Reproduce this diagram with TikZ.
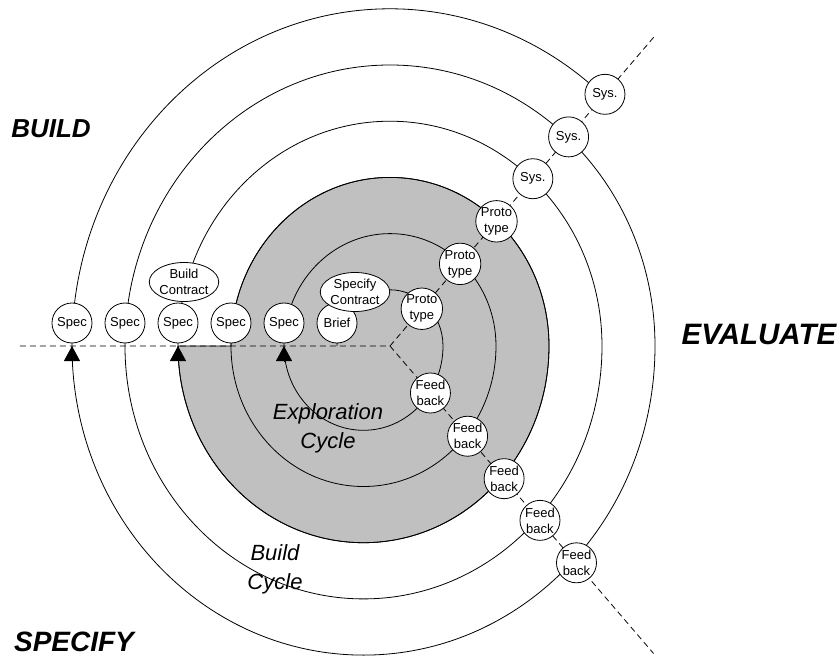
\documentclass[tikz,border=0pt]{standalone}
\usepackage{fontspec}
\setmainfont{Liberation Sans}
\usetikzlibrary{arrows.meta,shapes.geometric}
\definecolor{cyclegray}{RGB}{192,192,192}

\tikzset{
  stage/.style={draw, circle, fill=white, minimum size=40pt, inner sep=0pt, align=center, font=\fontsize{13}{16}\selectfont},
  contract/.style={draw, ellipse, fill=white, minimum width=65pt, minimum height=39pt, inner sep=0pt, align=center, font=\fontsize{13}{16}\selectfont},
  phase/.style={font=\fontsize{#1}{30}\selectfont\bfseries\itshape},
  cyclename/.style={align=center, font=\fontsize{22}{29}\selectfont\itshape},
  quadrant/.style={dash pattern=on 6pt off 4pt},
  into/.style={-{Triangle[width=16pt,length=15pt]}}
}

\begin{document}
\begin{tikzpicture}[x=1pt,y=1pt,line width=0.8pt]
  \useasboundingbox (-390,-310) rectangle (448,346);
  % exploration area
  \filldraw[fill=cyclegray] (-159,0) arc[start angle=180,end angle=0,x radius=159,y radius=168.6]
    arc[start angle=0,end angle=-180,x radius=185.5,y radius=196.7] -- cycle;
  % phase axes
  \coordinate (O) at (0,0);
  \coordinate (specify end) at (-370,0);
  \coordinate (build end) at (49.5:409);
  \coordinate (eval end) at (-49.4:405);
  \draw[quadrant] (specify end) -- (O) -- (build end);
  \draw[quadrant] (O) -- (eval end);
  % spiral turns
  \foreach \k in {1,...,5}
    \draw (-53*\k,0) arc[start angle=180,end angle=0,x radius=53*\k,y radius=56.2*\k]
      arc[start angle=0,end angle=-180,x radius=53*\k+26.5,y radius=56.2*\k+28.1];
  % last turn
  \draw (-318,0) arc[start angle=180,end angle=47.7,x radius=318,y radius=337.2];
  % arrows back into the spec
  \foreach \k in {2,4,6} \draw[into] (-53*\k,-15) -- (-53*\k,0);
  % stages
  \node[stage] (brief) at (-53,23) {Brief};
  \foreach \k in {2,...,6} \node[stage] (spec\k) at (-53*\k,23) {Spec};
  \node[contract] (specify contract) at (-35,54) {Specify\\Contract};
  \node[contract] (build contract) at (-206,64) {Build\\Contract};
  \foreach \d [count=\i] in {49,108,164} \node[stage] (proto\i) at (49.5:\d) {Proto\\type};
  \foreach \d [count=\i] in {220,275,331} \node[stage] (sys\i) at (49.5:\d) {Sys.};
  \foreach \d [count=\i] in {62,119,175,230,286} \node[stage] (feedback\i) at (-49.3:\d) {Feed\\back};
  % labels
  \node[phase=26] (build) at (-339,217) {BUILD};
  \node[phase=28] (specify) at (-316,-296) {SPECIFY};
  \node[phase=29.5] (evaluate) at (369,12) {EVALUATE};
  \node[cyclename] (exploration) at (-62,-82) {Exploration\\Cycle};
  \node[cyclename] (build cycle) at (-115,-223) {Build\\Cycle};
\end{tikzpicture}
\end{document}
